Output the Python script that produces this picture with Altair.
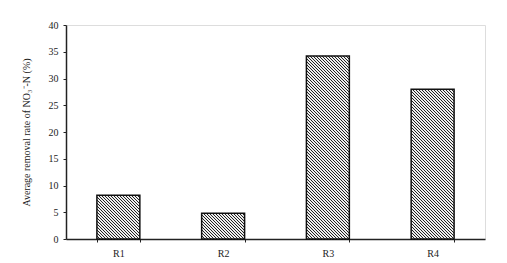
import math
import altair as alt
import pandas as pd

categories = ["R1", "R2", "R3", "R4"]
values = [8.2, 4.8, 34.2, 28.0]
y_ticks = [0, 5, 10, 15, 20, 25, 30, 35, 40]

df = pd.DataFrame({"reactor": categories, "rate": values})

font = "Liberation Serif"
W, H = 419, 214
Y_MAX = 40
P_INNER = 0.59
bar_w = W / len(categories) * (1 - P_INNER)
period = 3.0  # hatch period in px (horizontal)
duty = 1.0 / 3.0


def hatch(value):
    # diagonal "\" hatch built as a hard-stop linear gradient in bbox units
    h = max(value / Y_MAX * H, 1.0)
    w = bar_w
    n = int(math.ceil((w + h) / period)) + 1
    L = n * period
    k = L / (w * w + h * h)
    stops = []
    for i in range(n):
        a = i / n
        b = (i + duty) / n
        c = (i + 1) / n
        stops += [
            alt.GradientStop(offset=a, color="#222222"),
            alt.GradientStop(offset=b, color="#222222"),
            alt.GradientStop(offset=b, color="#eeeeee"),
            alt.GradientStop(offset=c, color="#eeeeee"),
        ]
    return alt.LinearGradient(
        gradient="linear", stops=stops, x1=0, y1=1, x2=k * w, y2=1 - k * h
    )


x_enc = alt.X(
    "reactor:N",
    sort=categories,
    scale=alt.Scale(domain=categories, paddingInner=P_INNER, paddingOuter=P_INNER / 2),
    axis=alt.Axis(
        title=None,
        labelAngle=0,
        tickBand="extent",
        tickSize=3,
        labelPadding=6,
        domainWidth=1.5,
        domainColor="#222222",
        tickColor="#222222",
        labelFont=font,
        labelFontSize=10,
        labelColor="#222222",
    ),
)
y_enc = alt.Y(
    "rate:Q",
    scale=alt.Scale(domain=[0, Y_MAX], nice=False),
    axis=alt.Axis(
        title="Average removal rate of NO₃⁻-N (%)",
        values=y_ticks,
        grid=False,
        tickSize=3,
        labelPadding=5,
        domainWidth=1.5,
        domainColor="#222222",
        tickColor="#222222",
        labelFont=font,
        labelFontSize=10,
        labelColor="#222222",
        titleFont=font,
        titleFontSize=10,
        titleFontWeight="normal",
        titleColor="#222222",
        titlePadding=17,
    ),
)

base = alt.Chart(df)
layers = []
for cat, val in zip(categories, values):
    layers.append(
        base.transform_filter(alt.datum.reactor == cat)
        .mark_bar(fill=hatch(val), stroke="#111111", strokeWidth=1.5)
        .encode(x=x_enc, y=y_enc)
    )

chart = (
    alt.layer(*layers)
    .properties(
        width=W,
        height=H,
        autosize=alt.AutoSizeParams(type="none"),
        padding={"left": 58, "top": 17, "right": 14, "bottom": 24},
    )
    .configure_view(stroke=None)
    .configure(background="white")
)

chart.save("out.html", embed_options={"renderer": "svg", "actions": False})
